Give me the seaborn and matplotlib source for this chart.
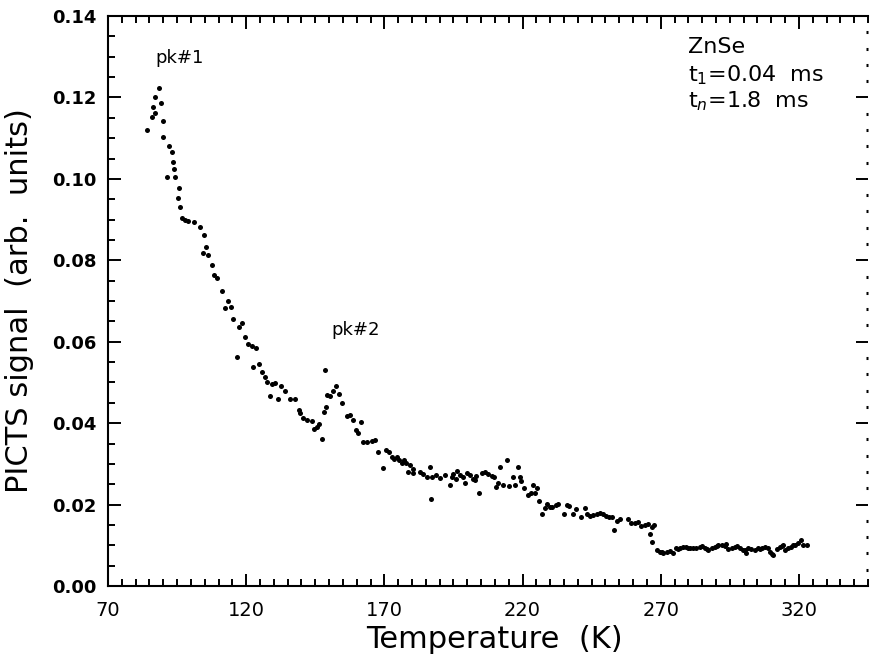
import matplotlib
matplotlib.use("Agg")
import matplotlib.pyplot as plt
from matplotlib.ticker import MultipleLocator, FormatStrFormatter
import pandas as pd
import seaborn as sns

# PICTS spectrum of ZnSe: temperature (K) and signal (arb. units)
temperature_k = [
    84.2, 85.8, 86.2, 87.0, 87.0, 88.6, 89.1, 89.8, 89.8, 91.2,
    92.2, 93.0, 93.4, 93.9, 94.2, 95.4, 95.8, 96.0, 96.7, 97.9,
    99.0, 101.1, 103.3, 104.5, 104.7, 105.3, 106.3,
    107.5, 108.4, 109.5, 111.1, 112.3, 113.5, 114.5, 115.3, 116.6, 117.5,
    118.4, 119.6, 120.8, 122.0, 122.4, 123.5, 124.7, 125.6, 126.8, 127.4,
    128.6, 129.2, 130.4, 131.6, 132.6, 134.0, 135.8, 137.7, 139.0, 139.5,
    140.7, 142.1, 143.7, 144.5, 145.5, 146.4, 147.3, 148.1, 148.5, 148.9,
    149.1, 150.3, 151.3, 152.5, 153.7, 154.6, 156.4, 157.6, 158.7, 159.7,
    160.6, 161.4, 162.4, 163.6, 165.4, 166.6, 167.8, 169.4, 170.6, 171.8,
    172.6, 173.5, 174.4, 175.4, 176.2, 177.1, 178.0, 178.6, 179.3, 180.2,
    180.5, 182.9, 184.1, 185.3, 186.5, 186.8, 187.1, 188.5, 190.0, 191.9,
    193.7, 194.3, 194.9, 195.9, 196.4, 197.3, 198.3, 199.1, 200.0, 200.9,
    201.9, 202.7, 203.3, 204.3, 205.2, 206.4, 207.6, 208.8, 209.6, 210.3,
    211.2, 212.0, 213.0, 214.2, 215.2, 216.4, 217.2, 218.2, 219.0, 219.6,
    220.5, 222.0, 222.9, 223.6, 224.5, 225.3, 226.0, 227.2, 228.1, 228.9,
    229.9, 230.8, 232.1, 232.9, 235.1, 235.9, 236.9, 238.3, 239.5, 241.3,
    242.5, 243.4, 244.3, 245.6, 246.8, 248.0, 249.2, 250.1, 251.3, 252.2,
    253.0, 254.0, 255.4, 258.2, 259.4, 260.6, 261.8, 263.0, 264.2, 265.5,
    266.1, 266.7, 266.9, 267.5, 268.7, 269.7, 270.3, 270.9, 272.1, 273.3,
    274.3, 275.5, 276.3, 276.9, 278.1, 279.3, 279.9, 280.5, 281.7, 282.9,
    284.1, 285.1, 285.9, 286.8, 287.2, 288.4, 289.6, 290.2, 290.8, 292.0,
    293.2, 293.6, 294.4, 295.6, 296.8, 297.7, 298.6, 299.8, 300.4, 300.8,
    301.6, 302.8, 304.0, 305.3, 305.9, 306.5, 307.7, 308.9, 309.7, 310.4,
    310.7, 311.9, 313.1, 313.7, 314.1, 314.9, 316.1, 317.3, 317.9, 318.5,
    319.7, 320.6, 321.5, 323.0,
]
picts_signal = [
    0.1120, 0.1151, 0.1177, 0.1161, 0.1202, 0.1223, 0.1187, 0.1143, 0.1104, 0.1004,
    0.1081, 0.1067, 0.1042, 0.1024, 0.1004, 0.0952, 0.0977, 0.0932, 0.0903, 0.0899,
    0.0897, 0.0895, 0.0883, 0.0819, 0.0862, 0.0833, 0.0813,
    0.0789, 0.0764, 0.0756, 0.0725, 0.0682, 0.0701, 0.0686, 0.0655, 0.0563, 0.0635,
    0.0647, 0.0612, 0.0594, 0.0590, 0.0539, 0.0584, 0.0545, 0.0526, 0.0514, 0.0502,
    0.0467, 0.0496, 0.0499, 0.0459, 0.0491, 0.0479, 0.0459, 0.0459, 0.0432, 0.0426,
    0.0412, 0.0408, 0.0406, 0.0385, 0.0391, 0.0398, 0.0360, 0.0428, 0.0530, 0.0440,
    0.0469, 0.0467, 0.0480, 0.0491, 0.0472, 0.0449, 0.0418, 0.0420, 0.0408, 0.0383,
    0.0377, 0.0402, 0.0354, 0.0353, 0.0357, 0.0359, 0.0330, 0.0289, 0.0334, 0.0328,
    0.0318, 0.0311, 0.0318, 0.0309, 0.0301, 0.0309, 0.0301, 0.0281, 0.0297, 0.0287,
    0.0278, 0.0281, 0.0275, 0.0268, 0.0292, 0.0214, 0.0267, 0.0272, 0.0266, 0.0273,
    0.0248, 0.0269, 0.0274, 0.0264, 0.0283, 0.0273, 0.0267, 0.0254, 0.0277, 0.0273,
    0.0264, 0.0260, 0.0270, 0.0228, 0.0278, 0.0281, 0.0275, 0.0270, 0.0269, 0.0244,
    0.0252, 0.0292, 0.0248, 0.0310, 0.0246, 0.0269, 0.0248, 0.0292, 0.0269, 0.0259,
    0.0240, 0.0224, 0.0228, 0.0248, 0.0228, 0.0240, 0.0210, 0.0177, 0.0191, 0.0201,
    0.0193, 0.0195, 0.0199, 0.0201, 0.0177, 0.0199, 0.0197, 0.0177, 0.0188, 0.0170,
    0.0191, 0.0178, 0.0172, 0.0174, 0.0178, 0.0180, 0.0177, 0.0172, 0.0170, 0.0170,
    0.0138, 0.0160, 0.0164, 0.0164, 0.0156, 0.0154, 0.0158, 0.0147, 0.0150, 0.0152,
    0.0128, 0.0146, 0.0107, 0.0150, 0.0088, 0.0084, 0.0084, 0.0082, 0.0084, 0.0087,
    0.0080, 0.0093, 0.0092, 0.0093, 0.0095, 0.0097, 0.0094, 0.0093, 0.0093, 0.0093,
    0.0095, 0.0098, 0.0093, 0.0090, 0.0088, 0.0093, 0.0097, 0.0098, 0.0101, 0.0101,
    0.0098, 0.0103, 0.0091, 0.0093, 0.0097, 0.0098, 0.0093, 0.0088, 0.0088, 0.0082,
    0.0093, 0.0091, 0.0088, 0.0093, 0.0092, 0.0093, 0.0095, 0.0093, 0.0084, 0.0078,
    0.0076, 0.0091, 0.0097, 0.0098, 0.0101, 0.0088, 0.0093, 0.0095, 0.0101, 0.0101,
    0.0105, 0.0113, 0.0101, 0.0101,
]

x_ticks = [70, 120, 170, 220, 270, 320]
y_ticks = [0.00, 0.02, 0.04, 0.06, 0.08, 0.10, 0.12, 0.14]

peak_labels = ["pk#1", "pk#2"]
peak_label_t = [87.0, 151.0]
peak_label_s = [0.1297, 0.0629]

sample_lines = ["ZnSe", "t$_1$=0.04  ms", "t$_n$=1.8  ms"]
sample_line_y = [0.946, 0.897, 0.851]

sns.set_style("ticks")
plt.rcParams["font.family"] = ["DejaVu Sans"]
plt.rcParams["mathtext.fontset"] = "dejavusans"
plt.rcParams.update({
    "text.color": "black",
    "axes.labelcolor": "black",
    "axes.edgecolor": "black",
    "xtick.color": "black",
    "ytick.color": "black",
})

df = pd.DataFrame({"Temperature": temperature_k, "Signal": picts_signal})

fig = plt.figure(figsize=(8.76, 6.63), dpi=100)
ax = fig.add_axes([0.1233, 0.1161, 0.8676, 0.8597])

sns.scatterplot(data=df, x="Temperature", y="Signal", ax=ax, color="black",
                s=13, marker="o", linewidth=0, legend=False)

ax.set_xlim(70, 345)
ax.set_ylim(0, 0.14)
ax.set_xticks(x_ticks)
ax.set_yticks(y_ticks)
ax.xaxis.set_minor_locator(MultipleLocator(5))
ax.yaxis.set_minor_locator(MultipleLocator(0.005))
ax.yaxis.set_major_formatter(FormatStrFormatter("%.2f"))

for side in ("left", "bottom", "top"):
    ax.spines[side].set_linewidth(1.5)
    ax.spines[side].set_color("black")
ax.spines["right"].set_visible(False)

ax.tick_params(which="both", direction="in", top=True, right=False,
               width=1.4, color="black", labelcolor="black")
ax.tick_params(which="major", length=9)
ax.tick_params(which="minor", length=5)
ax.tick_params(axis="x", labelsize=14, pad=11)
ax.tick_params(axis="y", labelsize=13, pad=8)
for lab in ax.get_yticklabels():
    lab.set_fontweight("bold")

# right-hand scale: tick marks only, finer minor division
sec = ax.secondary_yaxis("right")
sec.spines["right"].set_visible(False)
sec.yaxis.set_major_locator(MultipleLocator(0.02))
sec.yaxis.set_minor_locator(MultipleLocator(0.004))
sec.tick_params(which="both", direction="in", labelright=False, color="black")
sec.tick_params(which="major", length=9, width=1.4)
sec.tick_params(which="minor", length=1.5, width=2.2)

ax.set_xlabel("Temperature  (K)", fontsize=22, color="black")
ax.set_ylabel("PICTS signal  (arb.  units)", fontsize=22, color="black")
ax.xaxis.set_label_coords(0.509, -0.068)
ax.yaxis.set_label_coords(-0.098, 0.5)

for label, t, s in zip(peak_labels, peak_label_t, peak_label_s):
    ax.text(t, s, label, fontsize=13, ha="left", va="center", color="black")

for line, yy in zip(sample_lines, sample_line_y):
    ax.text(0.763, yy, line, transform=ax.transAxes, fontsize=16,
            ha="left", va="center", color="black")

fig.savefig("out.png", dpi=100)
